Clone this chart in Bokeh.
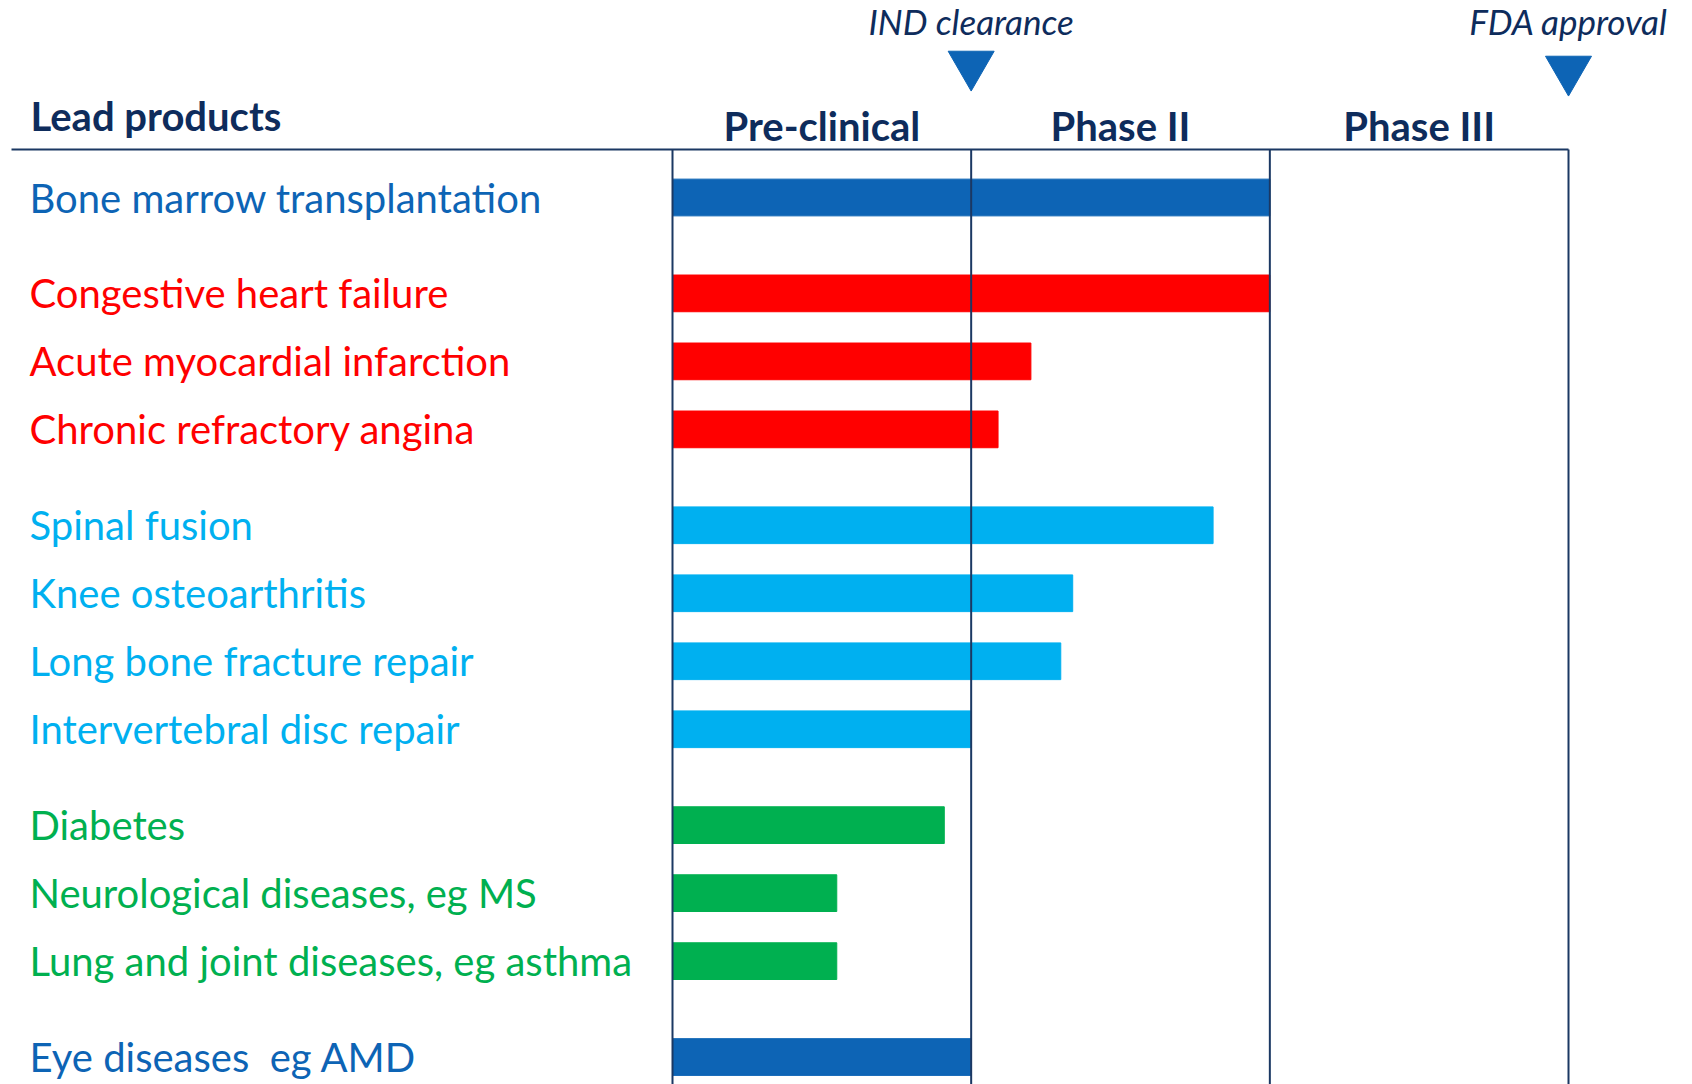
from bokeh.plotting import figure
from bokeh.models import Range1d, ColumnDataSource
from bokeh.embed import file_html
from bokeh.resources import INLINE
from bokeh.core.properties import value

# ---------------- data ----------------
products = [
    "Bone marrow transplantation",
    "Congestive heart failure",
    "Acute myocardial infarction",
    "Chronic refractory angina",
    "Spinal fusion",
    "Knee osteoarthritis",
    "Long bone fracture repair",
    "Intervertebral disc repair",
    "Diabetes",
    "Neurological diseases, eg MS",
    "Lung and joint diseases, eg asthma",
    "Eye diseases\u00a0 eg AMD",
]
product_group = [0, 1, 1, 1, 2, 2, 2, 2, 3, 3, 3, 4]
# progress measured in stages (0 = start of pre-clinical, 1 = IND clearance, ...)
progress = [2.0, 2.0, 1.2, 1.09, 1.81, 1.34, 1.3, 1.0, 0.91, 0.55, 0.55, 1.0]
group_colors = ["#0D64B5", "#FF0000", "#00B0F0", "#00B050", "#0D64B5"]
stages = ["Pre-clinical", "Phase II", "Phase III"]
stage_edges = [0, 1, 2, 3]
milestones = ["IND clearance", "FDA approval"]
milestone_at = [1, 3]

# ---------------- layout ----------------
W, H = 1692, 1084
stage_px = 298.67
grid_left_px = 672
row_px = 68
row0_px = 197
group_gap = 0.41

x_start = -grid_left_px / stage_px
x_end = x_start + W / stage_px
y_top = -row0_px / row_px
y_bottom = y_top + H / row_px


def X(px):
    return x_start + px / stage_px


def Y(px):
    return y_top + px / row_px


row_pos = [i + group_gap * g for i, g in enumerate(product_group)]
colors = [group_colors[g] for g in product_group]

NAVY = "#0E2C5C"
LINE = "#1B3863"
FONT = "Lato"

p = figure(width=W, height=H, x_range=Range1d(x_start, x_end),
           y_range=Range1d(y_bottom, y_top),
           output_backend="svg", toolbar_location=None,
           min_border=0, x_axis_location=None, y_axis_location=None)
p.grid.visible = False
p.outline_line_color = None
p.background_fill_color = "white"
p.border_fill_color = "white"

src = ColumnDataSource(dict(product=products, y=row_pos, right=progress,
                            color=colors, lx=[X(29)] * len(products)))

p.hbar(y="y", left=0, right="right", height=0.54, color="color", source=src)

p.text(x="lx", y="y", text="product", text_color="color", source=src,
       text_font=value(FONT), text_font_size="40px", text_baseline="middle",
       text_align="left")

# grid lines of stages
p.segment(x0=stage_edges, x1=stage_edges, y0=[Y(149)] * 4, y1=[y_bottom] * 4,
          line_color=LINE, line_width=2)
p.segment(x0=[X(11)], x1=[stage_edges[-1]], y0=[Y(149)], y1=[Y(149)],
          line_color=LINE, line_width=2)

# headers
p.text(x=[X(30)], y=[Y(115)], text=["Lead products"], text_color=NAVY,
       text_font=value(FONT), text_font_style="bold", text_font_size="40px",
       text_baseline="middle", text_align="left")
stage_mid = [(a + b) / 2 for a, b in zip(stage_edges[:-1], stage_edges[1:])]
p.text(x=stage_mid, y=[Y(125)] * 3, text=stages, text_color=NAVY,
       text_font=value(FONT), text_font_style="bold", text_font_size="40px",
       text_baseline="middle", text_align="center")

# milestones
p.text(x=milestone_at, y=[Y(20)] * 2, text=milestones, text_color=NAVY,
       text_font=value(FONT), text_font_style="italic", text_font_size="35px",
       text_baseline="middle", text_align="center")
p.scatter(x=milestone_at, y=[Y(64), Y(69)], marker="inverted_triangle",
          size=46, color="#0D64B5")

open("out.html", "w").write(file_html(p, INLINE))
